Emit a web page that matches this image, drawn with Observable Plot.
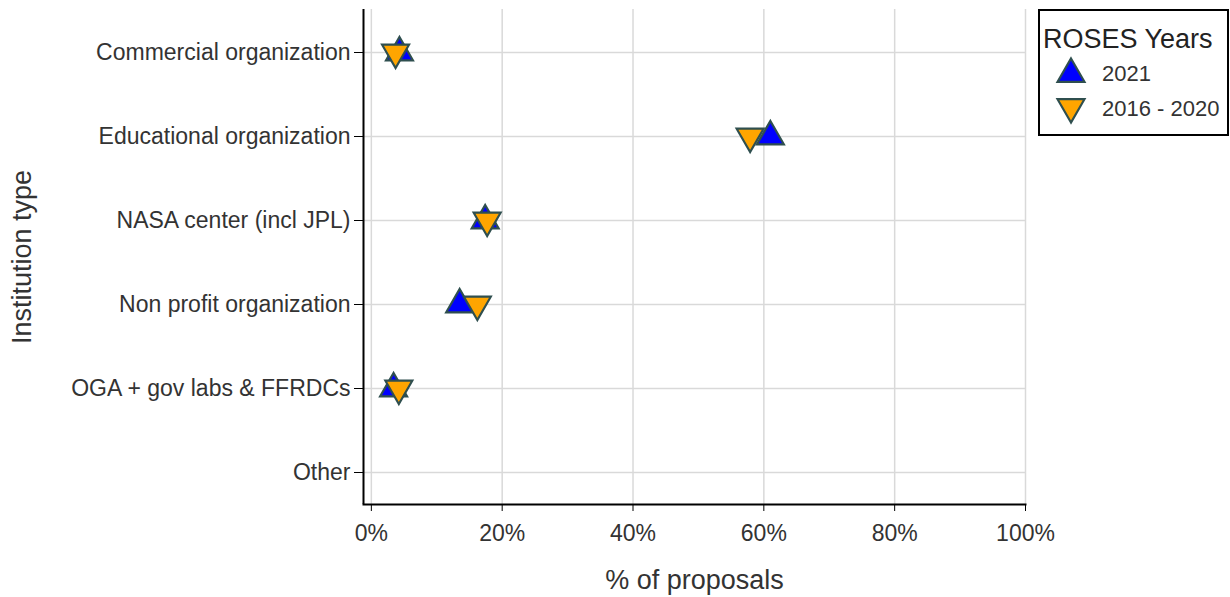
<!DOCTYPE html>
<html><head><meta charset="utf-8">
<script src="https://cdn.jsdelivr.net/npm/d3@7"></script>
<script src="https://cdn.jsdelivr.net/npm/@observablehq/plot@0.6"></script>
<style>
body{margin:0;background:#fff;font-family:"Liberation Sans",Arial,sans-serif;}
#wrap{position:relative;width:1230px;height:597px;}
#legend{position:absolute;left:1038px;top:9px;width:191px;height:127px;box-sizing:border-box;border:2px solid #000;background:#fff;}
</style></head><body><div id="wrap"></div>
<script>
const categories = ["Commercial organization","Educational organization","NASA center (incl JPL)","Non profit organization","OGA + gov labs & FFRDCs","Other"];
const seriesNames = ["2021","2016 - 2020"];
const values2021 = [4.3, 61.0, 17.4, 13.5, 3.4, null];
const values2016_2020 = [3.7, 57.9, 17.7, 16.2, 4.2, null];
const xTicks = [0,20,40,60,80,100];
const seriesColors = ["#0000ff","#ffa500"];

const rows2021 = categories.map((c,i)=>({category:c, value:values2021[i]})).filter(d=>d.value!=null);
const rowsOld = categories.map((c,i)=>({category:c, value:values2016_2020[i]})).filter(d=>d.value!=null);

const font = '"Liberation Sans", Arial, sans-serif';
const chart = Plot.plot({
  width:1230, height:597,
  marginLeft:363, marginRight:205, marginTop:9, marginBottom:93,
  style:{fontFamily:font, color:"#333", background:"#fff", overflow:"visible"},
  x:{domain:[-1.2,100]},
  y:{type:"point", domain:categories, range:[51,473], padding:0},
  marks:[
    Plot.gridX(xTicks, {stroke:"#d9d9d9", strokeOpacity:1, strokeWidth:1.5}),
    Plot.gridY(categories, {stroke:"#d9d9d9", strokeOpacity:1, strokeWidth:1.5}),
    Plot.axisX(xTicks,{tickFormat:d=>d+"%", fontSize:23, tickSize:7, tickPadding:13, label:null, stroke:"#000", fill:"#333"}),
    Plot.axisY(categories,{fontSize:23, tickSize:9, tickPadding:4, label:null, stroke:"#000", fill:"#333"}),
    Plot.text(["% of proposals"], {frameAnchor:"bottom", dy:84, fontSize:27, fill:"#333"}),
    Plot.text(["Institution type"], {frameAnchor:"left", textAnchor:"middle", dx:-341, rotate:-90, fontSize:27, fill:"#333"}),
    Plot.ruleX([-1.2],{stroke:"#000",strokeWidth:2}),
    Plot.frame({anchor:"bottom", stroke:"#000", strokeWidth:2}),
    Plot.dot(rows2021, {x:"value", y:"category", symbol:"triangle", r:10, fill:seriesColors[0], stroke:"#2f4f4f", strokeWidth:2.2}),
    Plot.dot(rowsOld, {x:"value", y:"category", symbol:"triangle", rotate:180, r:10, fill:seriesColors[1], stroke:"#2f4f4f", strokeWidth:2.2})
  ]
});
const wrap = document.getElementById("wrap");
wrap.appendChild(chart);

const legend = document.createElement("div");
legend.id = "legend";
const sym = d3.symbol(d3.symbolTriangle, Math.PI*100)();
legend.innerHTML = `<svg width="187" height="123" style="font-family:${font}">
<text x="3" y="37" font-size="27" fill="#222">ROSES Years</text>
<path d="${sym}" transform="translate(31,63)" fill="${seriesColors[0]}" stroke="#2f4f4f" stroke-width="2.2"/>
<text x="62" y="70" font-size="22" fill="#333">${seriesNames[0]}</text>
<path d="${sym}" transform="translate(31,96) rotate(180)" fill="${seriesColors[1]}" stroke="#2f4f4f" stroke-width="2.2"/>
<text x="62" y="105" font-size="22" fill="#333">${seriesNames[1]}</text>
</svg>`;
wrap.appendChild(legend);
</script></body></html>
